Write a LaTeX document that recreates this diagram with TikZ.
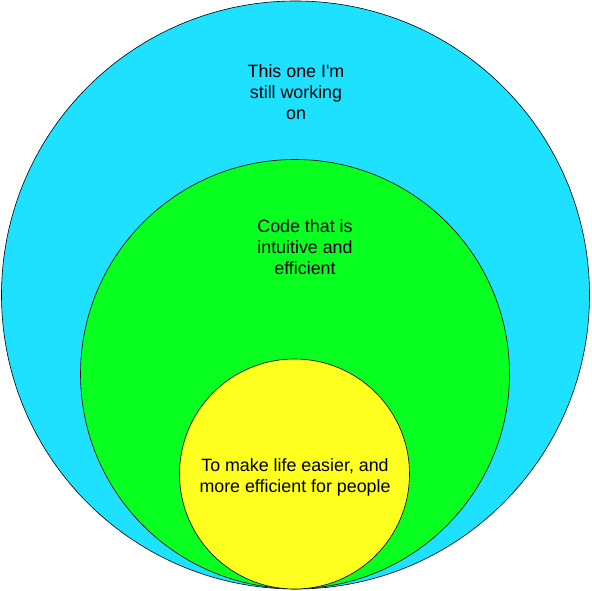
\documentclass[tikz,border=0pt]{standalone}
\usepackage{fontspec}
\setmainfont{Liberation Sans}
\usepackage{xcolor}
\definecolor{ringcyan}{RGB}{30,224,255}
\definecolor{ringgreen}{RGB}{8,255,32}
\definecolor{ringyellow}{RGB}{255,255,32}

\begin{document}
\begin{tikzpicture}[
  x=1bp, y=-1bp,
  font=\fontsize{17.9}{21}\selectfont,
  ring/.style={circle, draw=black, line width=0.6pt, inner sep=0pt},
  outerring/.style={ring, fill=ringcyan, minimum size=588bp},
  midring/.style={ring, fill=ringgreen, minimum size=429bp},
  innerring/.style={ring, fill=ringyellow, minimum size=230bp},
  caption/.style={align=center, text=black, inner sep=0pt}
]
\useasboundingbox (0,0) rectangle (591,591);

\node[outerring] (outer) at (295.5,295) {};
\node[midring] (middle) at (295,374) {};
\node[innerring] (inner) at (294.5,474) {};

\node[caption] (outertext) at (296,92)
  {This one I\textquotesingle m\\still working\\on};
\node[caption] (midtext) at (305,247)
  {Code that is\\intuitive and\\efficient};
\node[caption] (innertext) at (295,477)
  {To make life easier, and\\more efficient for people};

\end{tikzpicture}
\end{document}
